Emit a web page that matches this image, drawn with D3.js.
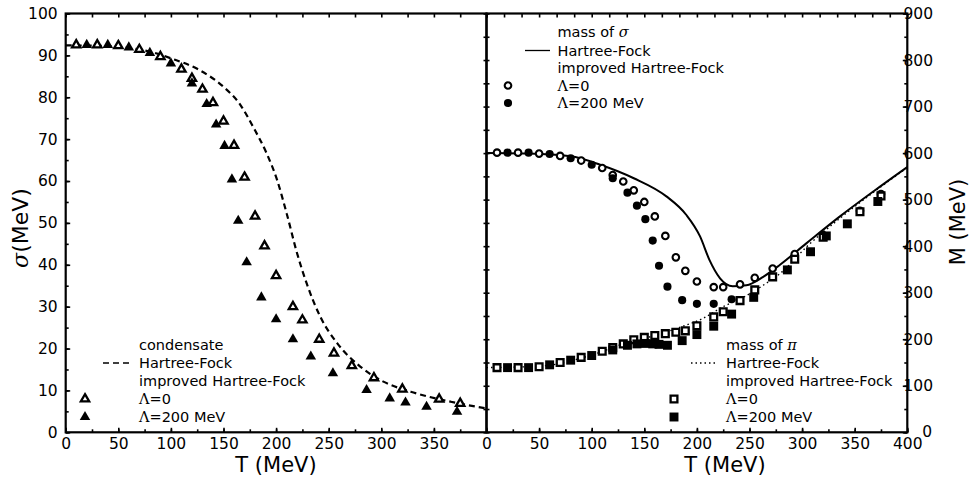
<!DOCTYPE html>
<html>
<head>
<meta charset="utf-8">
<script src="https://cdn.jsdelivr.net/npm/d3@7"></script>
<style>
  body { margin: 0; background: #fff; }
  svg { display: block; background: #fff; }
</style>
</head>
<body>
<svg id="chart" width="973" height="487"></svg>
<script>
// ---- data ---------------------------------------------------------------
// temperatures (MeV) of the improved Hartree-Fock points
const tempsOpen   = [10,30,50,70,90,110,120,130,140,150,160,170,180,189,200,216,225,241,255,272,293,320,355,375];   // Λ=0
const tempsFilled = [20,40,60,80,100,120,134,143,151,158,164,172,186,200,216,233,254,286,308,323,343,372];       // Λ=200 MeV

// condensate σ (MeV)
const condensateOpen   = [92.5,92.5,92.3,91.4,89.7,86.7,84.5,81.9,78.7,74.3,68.5,60.9,51.6,44.5,37.4,30.0,26.8,22.2,18.9,15.9,13.0,10.3,7.9,6.9];
const condensateFilled = [92.5,92.5,91.9,90.6,88.1,83.3,78.4,73.5,68.4,60.4,50.5,40.6,32.2,27.0,22.2,18.1,14.1,10.1,8.1,7.1,6.1,4.9];

// Hartree-Fock condensate curve
const hfCondTemps  = [0,40,60,80,100,127,150,166,178,191,201,210,220,229,242,258,280,302,328,366,400];
const hfCondensate = [92.4,92.2,91.8,90.9,89.3,86.5,82.5,78.2,73.0,66.6,60.2,52.3,42.7,35.6,27.6,21.3,15.7,12.1,9.7,7.3,5.7];

// masses M (MeV)
const sigmaMassOpen   = [601,601,599,594,584,568,553,539,520,495,464,422,376,347,324,312,312,318,332,352,383,424,476,512];
const sigmaMassFilled = [601,601,598,589,575,546,515,487,458,412,358,313,284,276,276,286];   // first 16 temperatures of tempsFilled
const piMassOpen      = [139,139,141,150,161,174,182,190,199,204,208,212,215,218,229,248,259,283,306,334,372,419,474,508];
const piMassFilled    = [139,139,145,155,165,177,187,190,191,190,189,187,197,210,228,254,290,349,388,422,448,496];

// Hartree-Fock mass curves
const hfSigmaTemps = [0,40,80,108,140,171,190,203,212,222,234,247,263,279,304,336,368,400];
const hfSigmaMass  = [600,599,593,575,546,507,467,421,370,331,314,316,334,360,406,464,518,570];
const hfPiTemps    = [0,50,100,130,160,187,206,225,244,263,280,304,336,368,400];
const hfPiMass     = [139,142,166,190,208,228,245,270,290,316,343,398,460,516,569];

// tick values
const tempTicksLeft  = [0,50,100,150,200,250,300,350];
const tempTicksRight = [0,50,100,150,200,250,300,350,400];
const condensateTicks = [0,10,20,30,40,50,60,70,80,90,100];
const massTicks = [0,100,200,300,400,500,600,700,800,900];

// ---- layout -------------------------------------------------------------
const FONT = "'DejaVu Sans', sans-serif";
const SERIF = "'DejaVu Serif', serif";
const plotTop = 13.5, plotBottom = 432.3;
const svg = d3.select("#chart");

const xL = d3.scaleLinear().domain([0, 400]).range([65.7, 486.5]);
const xR = d3.scaleLinear().domain([0, 400]).range([486.5, 907.3]);
const yL = d3.scaleLinear().domain([0, 100]).range([plotBottom, plotTop]);
const yR = d3.scaleLinear().domain([0, 900]).range([plotBottom, plotTop]);

function axis(gen, values, size, transform, labels, pad) {
  const a = gen.tickValues(values).tickSizeInner(size).tickSizeOuter(0).tickPadding(pad || 6);
  if (!labels) a.tickFormat("");
  const g = svg.append("g").attr("transform", transform).call(a)
    .attr("font-family", FONT).attr("font-size", 15.5);
  g.select(".domain").remove();
  g.selectAll("line").attr("stroke", "#000").attr("stroke-width", 1.6);
  g.selectAll("text").attr("fill", "#000");
  return g;
}
const range = (a, b, s) => d3.range(a, b + 1e-9, s);

// left panel: T axis (bottom / top), σ axis (left)
axis(d3.axisBottom(xL), range(0, 400, 25), -3, `translate(0,${plotBottom})`, false);
axis(d3.axisBottom(xL), tempTicksLeft, -4.5, `translate(0,${plotBottom})`, true, 5.5);
axis(d3.axisTop(xL), range(0, 400, 25), -4, `translate(0,${plotTop})`, false);
axis(d3.axisLeft(yL), range(0, 100, 5), -3, `translate(${xL(0)},0)`, false);
axis(d3.axisLeft(yL), condensateTicks, -4.5, `translate(${xL(0)},0)`, true, 8);

// right panel: T axis (bottom / top), M axis (right) and the shared edge
axis(d3.axisBottom(xR), range(0, 400, 25), -3, `translate(0,${plotBottom})`, false);
axis(d3.axisBottom(xR), tempTicksRight, -4.5, `translate(0,${plotBottom})`, true, 5.5);
axis(d3.axisTop(xR), range(0, 400, 400 / 24), -4, `translate(0,${plotTop})`, false);
axis(d3.axisRight(yR), range(0, 900, 50), -3, `translate(${xR(400)},0)`, false);
const mAxis = axis(d3.axisRight(yR), massTicks, -4.5, `translate(${xR(400)},0)`, true, 6);
mAxis.selectAll("text").attr("text-anchor", "middle").attr("x", 11);
// the zero label sits just clear of the corner "400"
mAxis.selectAll("text").filter(d => d === 0).attr("x", 20).attr("dy", "0.3em");
axis(d3.axisLeft(yR), range(0, 900, 50), 6, `translate(${xR(0) + 3},0)`, false);

// frames
[xL, xR].forEach(x => {
  svg.append("rect")
    .attr("x", x(0)).attr("y", plotTop)
    .attr("width", x(400) - x(0)).attr("height", plotBottom - plotTop)
    .attr("fill", "none").attr("stroke", "#000").attr("stroke-width", 2.2);
});

// clip paths for the curves
const defs = svg.append("defs");
[["clipL", xL], ["clipR", xR]].forEach(([id, x]) => {
  defs.append("clipPath").attr("id", id).append("rect")
    .attr("x", x(0)).attr("y", plotTop).attr("width", x(400) - x(0)).attr("height", plotBottom - plotTop);
});

function curve(temps, vals, x, y, clip, style) {
  const pts = temps.map((t, i) => [t, vals[i]]);
  const line = d3.line().x(d => x(d[0])).y(d => y(d[1])).curve(d3.curveMonotoneX);
  svg.append("path").attr("d", line(pts)).attr("clip-path", `url(#${clip})`)
    .attr("fill", "none").attr("stroke", "#000")
    .attr("stroke-width", style.w).attr("stroke-dasharray", style.dash || null);
}

const sym = {
  triOpen:   { type: d3.symbolTriangle, size: 30, fill: "#fff", stroke: 2.3 },
  triFilled: { type: d3.symbolTriangle, size: 48, fill: "#000", stroke: 0 },
  cirOpen:   { type: d3.symbolCircle,   size: 34, fill: "#fff", stroke: 2.1 },
  cirFilled: { type: d3.symbolCircle,   size: 52, fill: "#000", stroke: 0 },
  sqOpen:    { type: d3.symbolSquare,   size: 46, fill: "#fff", stroke: 2.3 },
  sqFilled:  { type: d3.symbolSquare,   size: 80, fill: "#000", stroke: 0 }
};
function drawSymbol(cx, cy, s) {
  svg.append("path")
    .attr("d", d3.symbol().type(s.type).size(s.size)())
    .attr("transform", `translate(${cx},${cy})`)
    .attr("fill", s.fill).attr("stroke", s.stroke ? "#000" : "none")
    .attr("stroke-width", s.stroke).attr("stroke-linejoin", "miter");
}
function points(temps, vals, x, y, s) {
  vals.forEach((v, i) => drawSymbol(x(temps[i]), y(v), s));
}

// ---- left panel: condensate ----------------------------------------------
curve(hfCondTemps, hfCondensate, xL, yL, "clipL", { w: 2.2, dash: "6,4" });
points(tempsOpen, condensateOpen, xL, yL, sym.triOpen);
points(tempsFilled, condensateFilled, xL, yL, sym.triFilled);

// ---- right panel: masses --------------------------------------------------
curve(hfSigmaTemps, hfSigmaMass, xR, yR, "clipR", { w: 2.0 });
curve(hfPiTemps, hfPiMass, xR, yR, "clipR", { w: 1.4, dash: "1.5,3" });
points(tempsOpen, sigmaMassOpen, xR, yR, sym.cirOpen);
points(tempsFilled, sigmaMassFilled, xR, yR, sym.cirFilled);
points(tempsOpen, piMassOpen, xR, yR, sym.sqOpen);
points(tempsFilled, piMassFilled, xR, yR, sym.sqFilled);

// ---- legends --------------------------------------------------------------
function legendText(x, y, parts) {
  const t = svg.append("text").attr("x", x).attr("y", y)
    .attr("font-family", FONT).attr("font-size", 14.5).attr("fill", "#000");
  parts.forEach(p => {
    const s = t.append("tspan").text(p.text);
    if (p.serif) s.attr("font-family", SERIF);
    if (p.italic) s.attr("font-style", "italic");
  });
}
function legendLine(x1, x2, y, style) {
  svg.append("line").attr("x1", x1).attr("x2", x2).attr("y1", y).attr("y2", y)
    .attr("stroke", "#000").attr("stroke-width", style.w).attr("stroke-dasharray", style.dash || null);
}
function legend(cfg) {
  const { tx, base, step, head, line, markers } = cfg;
  legendText(tx, base, head);
  legendText(tx, base + step[0], [{ text: "Hartree-Fock" }]);
  legendText(tx, base + step[0] + step[1], [{ text: "improved Hartree-Fock" }]);
  legendText(tx, base + step[0] + 2 * step[1], [{ text: "Λ", serif: true }, { text: "=0" }]);
  legendText(tx, base + step[0] + 3 * step[1], [{ text: "Λ", serif: true }, { text: "=200 MeV" }]);
  legendLine(line.x1, line.x2, base + step[0] - 5, line.style);
  drawSymbol(markers.x, base + step[0] + 2 * step[1] - 5, markers.open);
  drawSymbol(markers.x, base + step[0] + 3 * step[1] - 5, markers.filled);
}

legend({
  tx: 139, base: 350, step: [18, 18],
  head: [{ text: "condensate" }],
  line: { x1: 103, x2: 130, style: { w: 1.6, dash: "6,4" } },
  markers: { x: 85, open: sym.triOpen, filled: sym.triFilled }
});
legend({
  tx: 557.5, base: 37, step: [18.5, 17.5],
  head: [{ text: "mass of " }, { text: "σ", serif: true, italic: true }],
  line: { x1: 525, x2: 550, style: { w: 1.3 } },
  markers: { x: 508, open: sym.cirOpen, filled: sym.cirFilled }
});
legend({
  tx: 726, base: 350, step: [18, 18],
  head: [{ text: "mass of " }, { text: "π", serif: true, italic: true }],
  line: { x1: 691, x2: 716, style: { w: 1.3, dash: "1.5,3" } },
  markers: { x: 674, open: sym.sqOpen, filled: sym.sqFilled }
});

// ---- axis titles ----------------------------------------------------------
function title(x, y, rot, size, parts) {
  const t = svg.append("text")
    .attr("transform", `translate(${x},${y}) rotate(${rot})`)
    .attr("text-anchor", "middle")
    .attr("font-family", FONT).attr("font-size", size).attr("fill", "#000");
  parts.forEach(p => {
    const s = t.append("tspan").text(p.text);
    if (p.serif) s.attr("font-family", SERIF);
    if (p.italic) s.attr("font-style", "italic");
  });
}
title(276, 472, 0, 21, [{ text: "T (MeV)" }]);
title(725, 472, 0, 21, [{ text: "T (MeV)" }]);
title(28, 228, -90, 22, [{ text: "σ", serif: true, italic: true }, { text: "(MeV)" }]);
title(965, 222, -90, 21, [{ text: "M (MeV)" }]);
</script>
</body>
</html>
